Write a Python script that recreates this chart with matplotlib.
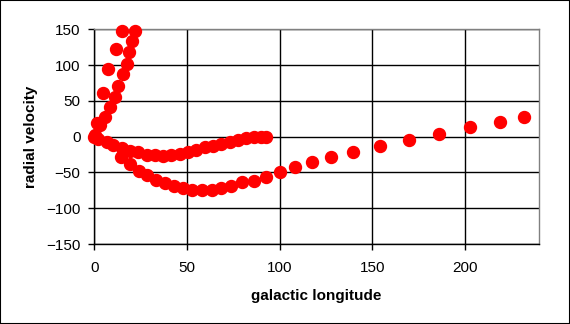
import matplotlib
matplotlib.use("Agg")
import matplotlib.pyplot as plt
from matplotlib.patches import Rectangle

plt.rcParams['font.family'] = ['Liberation Sans', 'DejaVu Sans']

# Steep inner arm rising from the origin
arm_lon = [0.4, 3.0, 5.8, 8.4, 11.1, 12.9, 15.4, 17.4, 19.0, 20.6, 22.2]
arm_vel = [2, 16, 28, 42, 56, 71, 87, 102, 118, 133, 147]

# Steeper outer arm
outer_lon = [0.0, 1.3, 4.5, 7.5, 11.5, 14.7]
outer_vel = [0, 19, 61, 95, 123, 147]

# Shallow dip back to zero near 90 degrees
dip_lon = [2.2, 6.7, 10.2, 14.7, 19.2, 23.7, 28.2, 32.6, 37.1, 41.6, 46.1,
           50.5, 55.0, 59.5, 64.0, 68.5, 73.0, 77.4, 81.9, 86.4, 90.0, 92.7]
dip_vel = [-3, -7, -12, -16, -20, -22, -25, -26, -27, -26, -24,
           -22, -19, -15, -13, -10, -7, -5, -2, 0, 0, 0]

# Lower branch extending to the outer galaxy
low_lon = [14.2, 19.2, 24.0, 28.7, 33.3, 38.2, 43.0, 47.9, 52.9, 58.1, 63.3,
           68.5, 74.0, 79.9, 86.2, 92.7, 100.2, 108.4, 117.6, 127.8, 139.4,
           154.1, 169.7, 186.2, 202.9, 218.7, 232.1]
low_vel = [-29, -38, -48, -54, -60, -65, -69, -72, -75, -75, -74,
           -72, -69, -64, -62, -56, -50, -43, -36, -28, -21,
           -13, -4, 4, 13, 20, 27]

x_ticks = [0, 50, 100, 150, 200]
y_ticks = [-150, -100, -50, 0, 50, 100, 150]

fig = plt.figure(figsize=(5.70, 3.24), dpi=100)
ax = fig.add_axes([0.1654, 0.2469, 0.9456 - 0.1654, 0.9096 - 0.2469])

for lon, vel in [(arm_lon, arm_vel), (outer_lon, outer_vel),
                 (dip_lon, dip_vel), (low_lon, low_vel)]:
    ax.plot(lon, vel, linestyle='none', marker='o', ms=8.6,
            color='#ff0000', mec='#ff0000', clip_on=False, zorder=3)

ax.set_xlim(0, 240)
ax.set_ylim(-150, 150)
ax.set_xticks(x_ticks)
ax.set_yticks(y_ticks)
ax.grid(True, color='black', linewidth=1.0)
ax.set_axisbelow(True)

for side in ['top', 'right']:
    ax.spines[side].set_color('#808080')
for side in ['left', 'bottom']:
    ax.spines[side].set_color('black')
for s in ax.spines.values():
    s.set_linewidth(1.0)

ax.tick_params(direction='out', length=4, width=1, labelsize=11,
               colors='black', pad=6)
ax.tick_params(axis='x', pad=8)

ax.set_xlabel('galactic longitude', fontsize=11, fontweight='bold', labelpad=10)
ax.set_ylabel('radial velocity', fontsize=11, fontweight='bold', labelpad=6)

fig.patches.append(Rectangle((0, 0), 1, 1, transform=fig.transFigure,
                             fill=False, edgecolor='black', linewidth=1.5))

fig.savefig('out.png', dpi=100)
